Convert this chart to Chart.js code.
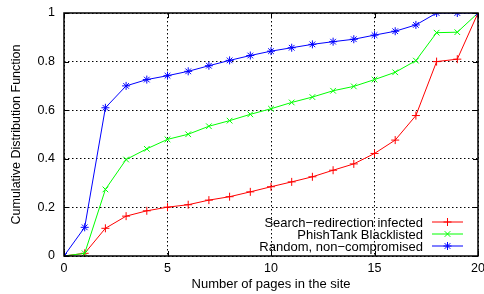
<!DOCTYPE html>
<html>
<head>
<meta charset="utf-8">
<script src="https://cdn.jsdelivr.net/npm/chart.js@4.4.1/dist/chart.umd.min.js"></script>
<style>
  html, body { margin: 0; padding: 0; background: #fff; }
  #wrap { width: 484px; height: 294px; }
</style>
</head>
<body>
<div id="wrap"><canvas id="chart" width="484" height="294"></canvas></div>
<script>
// Statics
var PAGES = [0, 1, 2, 3, 4, 5, 6, 7, 8, 9, 10, 11, 12, 13, 14, 15, 16, 17, 18, 19, 20];
var SEARCH_REDIRECT = [0, 0.011, 0.114, 0.164, 0.186, 0.201, 0.211, 0.230, 0.244, 0.264, 0.285,
                       0.305, 0.326, 0.353, 0.379, 0.422, 0.477, 0.578, 0.800, 0.810, 1.0];
var PHISHTANK = [0, 0.011, 0.274, 0.397, 0.441, 0.480, 0.501, 0.534, 0.557, 0.583, 0.606,
                 0.632, 0.654, 0.680, 0.698, 0.726, 0.756, 0.804, 0.919, 0.921, 1.0];
var RANDOM = [0, 0.118, 0.610, 0.700, 0.726, 0.742, 0.760, 0.783, 0.805, 0.825, 0.843,
              0.857, 0.871, 0.882, 0.892, 0.909, 0.925, 0.951, 1.0, 1.0, 1.0];
var SERIES_NAMES = ['Search\u2212redirection infected', 'PhishTank Blacklisted', 'Random, non\u2212compromised'];
var X_TICKS = [0, 5, 10, 15, 20];
var Y_TICKS = [0, 0.2, 0.4, 0.6, 0.8, 1];

var FONT = { family: "'Liberation Sans', Arial, sans-serif", size: 13 };
var TICK_FONT = { family: "'Liberation Sans', Arial, sans-serif", size: 12.5 };
var Y_TITLE_FONT = { family: "'Liberation Sans', Arial, sans-serif", size: 12.5 };

function series(name, values, color, style, order) {
    return {
        label: name,
        data: PAGES.map(function (x, i) { return { x: x, y: values[i] }; }),
        borderColor: color,
        backgroundColor: color,
        borderWidth: 1,
        pointStyle: style,
        pointRadius: 4,
        pointBorderWidth: 1,
        pointHoverRadius: 4,
        tension: 0,
        order: order
    };
}

// draws the box, inside ticks and the legend, gnuplot style
var framePlugin = {
    id: 'frame',
    afterDraw: function (chart) {
        var ctx = chart.ctx;
        var a = chart.chartArea;
        var xs = chart.scales.x, ys = chart.scales.y;
        ctx.save();
        ctx.strokeStyle = '#000';
        ctx.lineWidth = 1;
        ctx.beginPath();
        X_TICKS.forEach(function (t) {
            var px = Math.round(xs.getPixelForValue(t)) + 0.5;
            ctx.moveTo(px, a.bottom); ctx.lineTo(px, a.bottom - 5);
            ctx.moveTo(px, a.top); ctx.lineTo(px, a.top + 5);
        });
        Y_TICKS.forEach(function (t) {
            var py = Math.round(ys.getPixelForValue(t)) + 0.5;
            ctx.moveTo(a.left, py); ctx.lineTo(a.left + 5, py);
            ctx.moveTo(a.right, py); ctx.lineTo(a.right - 5, py);
        });
        ctx.stroke();
        ctx.lineWidth = 1.5;
        ctx.strokeRect(a.left, a.top, a.right - a.left, a.bottom - a.top);

        // legend, bottom right inside the plot
        ctx.font = FONT.size + 'px ' + FONT.family;
        ctx.textAlign = 'right';
        ctx.textBaseline = 'middle';
        chart.data.datasets.forEach(function (ds, i) {
            var y = a.bottom - 34 + i * 12;
            var lineEnd = a.right - 15;
            var lineStart = lineEnd - 31;
            ctx.fillStyle = '#000';
            ctx.fillText(ds.label, lineStart - 9, y + 1);
            ctx.strokeStyle = ds.borderColor;
            ctx.lineWidth = 1;
            ctx.beginPath();
            ctx.moveTo(lineStart, y); ctx.lineTo(lineEnd, y);
            ctx.stroke();
            Chart.helpers.drawPoint(ctx, {
                pointStyle: ds.pointStyle, radius: 4, rotation: 0, borderWidth: 1
            }, (lineStart + lineEnd) / 2, y);
        });
        ctx.restore();
    }
};

new Chart(document.getElementById('chart'), {
    type: 'line',
    data: {
        datasets: [
            series(SERIES_NAMES[0], SEARCH_REDIRECT, '#ff0000', 'cross', 3),
            series(SERIES_NAMES[1], PHISHTANK, '#00ff00', 'crossRot', 2),
            series(SERIES_NAMES[2], RANDOM, '#0000ff', 'star', 1)
        ]
    },
    options: {
        responsive: false,
        animation: false,
        layout: { padding: { left: 0, right: 6, top: 13, bottom: 0 } },
        plugins: {
            legend: { display: false },
            tooltip: { enabled: false }
        },
        scales: {
            x: {
                type: 'linear',
                min: 0, max: 20,
                afterBuildTicks: function (s) { s.ticks = X_TICKS.map(function (v) { return { value: v }; }); },
                afterFit: function (s) { s.height = 38; s.paddingLeft = 0; s.paddingRight = 0; },
                ticks: { color: '#000', font: TICK_FONT, padding: 5, maxRotation: 0 },
                grid: { color: '#000', lineWidth: 1, drawTicks: false },
                border: { display: false, dash: [1.5, 2.5] },
                title: { display: true, text: 'Number of pages in the site', color: '#000', font: FONT, padding: { top: 2, bottom: 2 } }
            },
            y: {
                min: 0, max: 1,
                afterBuildTicks: function (s) { s.ticks = Y_TICKS.map(function (v) { return { value: v }; }); },
                afterFit: function (s) { s.width = 64; s.paddingTop = 0; s.paddingBottom = 0; },
                ticks: {
                    color: '#000', font: TICK_FONT, padding: 9,
                    callback: function (v) { return String(Math.round(v * 10) / 10); }
                },
                grid: { color: '#000', lineWidth: 1, drawTicks: false },
                border: { display: false, dash: [1.5, 2.5] },
                title: { display: true, text: 'Cumulative Distribution Function', color: '#000', font: Y_TITLE_FONT, padding: { top: 9, bottom: 0 } }
            }
        }
    },
    plugins: [framePlugin]
});
</script>
</body>
</html>
